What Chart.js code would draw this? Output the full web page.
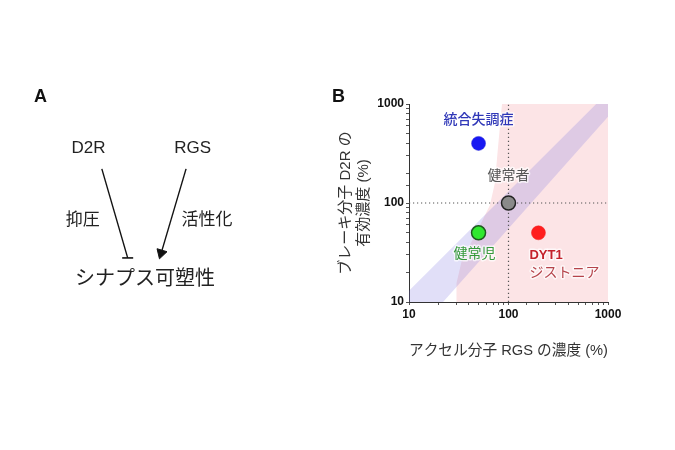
<!DOCTYPE html>
<html lang="ja">
<head>
<meta charset="utf-8">
<title>D2R / RGS</title>
<script src="https://cdn.jsdelivr.net/npm/chart.js@4.4.1/dist/chart.umd.min.js"></script>
<style>
  html, body { margin: 0; padding: 0; background: #fff; }
  #wrap { position: relative; width: 675px; height: 450px; overflow: hidden; }
  #wrap canvas { position: absolute; left: 0; top: 0; }
  .tag { position: absolute; font: bold 18px 'Liberation Sans', Arial, sans-serif; color: #111; }
</style>
</head>
<body>
<div id="wrap">
  <canvas id="diagram" width="330" height="450"></canvas>
  <canvas id="plot" width="675" height="450"></canvas>
  <div class="tag" style="left:34px;top:86px">A</div>
  <div class="tag" style="left:332px;top:86px">B</div>
</div>
<script>
//========================= Data ===========================
// panel B
var groups = ['統合失調症', '健常者', '健常児', 'DYT1 ジストニア'];
var rgsLevel = [50, 100, 50, 200];   // アクセル分子 RGS の濃度 (%)
var d2rLevel = [400, 100, 50, 50];   // ブレーキ分子 D2R の有効濃度 (%)
var axisTicks = [10, 100, 1000];
var normalLevel = 100;

// pink (dystonia side) zone, left boundary from top to bottom
var pinkEdgeX = [86, 78, 73, 65, 45, 34, 30, 30];
var pinkEdgeY = [1000, 343, 159, 95, 45, 26.5, 15.5, 10];

// healthy band, upper and lower edges
var bandUpperX = [10, 760];
var bandUpperY = [13, 1000];
var bandLowerX = [1000, 22];
var bandLowerY = [745, 10];

// panel A (diagram, laid out in page pixels)
var nodeText = ['D2R', 'RGS', '抑圧', '活性化', 'シナプス可塑性'];
var nodeX = [85, 194, 79, 209, 144];
var nodeY = [146, 146, 220, 220, 281];
var inhibitX = [99, 126];
var inhibitY = [167, 259];
var activateX = [187, 161];
var activateY = [167, 254];

var FONT = "'Liberation Sans', 'Noto Sans CJK JP', Arial, sans-serif";

function pts(xs, ys) {
    return xs.map(function (x, i) { return {x: x, y: ys[i]}; });
}

//========================= Panel A ===========================
var nodeLabels = {
    id: 'nodeLabels',
    afterDraw: function (chart) {
        var ctx = chart.ctx, sx = chart.scales.x, sy = chart.scales.y;
        ctx.save();
        ctx.fillStyle = '#222';
        ctx.textAlign = 'center';
        ctx.textBaseline = 'middle';
        nodeText.forEach(function (t, i) {
            ctx.font = (i === 4 ? '20px ' : '17px ') + FONT;
            ctx.fillText(t, sx.getPixelForValue(nodeX[i]), sy.getPixelForValue(nodeY[i]));
        });
        ctx.restore();
    }
};

var dx = activateX[1] - activateX[0], dy = activateY[1] - activateY[0];
var arrowRot = Math.atan2(dx, -dy) * 180 / Math.PI;

new Chart(document.getElementById('diagram'), {
    type: 'line',
    data: {
        datasets: [{
            data: pts(inhibitX, inhibitY),
            borderColor: '#111',
            borderWidth: 1.4,
            pointStyle: 'line',
            pointRadius: [0, 5.5],
            pointBorderWidth: 1.6,
            pointBorderColor: '#111',
        }, {
            data: pts(activateX, activateY),
            borderColor: '#111',
            borderWidth: 1.4,
            pointStyle: 'triangle',
            pointRotation: arrowRot,
            pointRadius: [0, 6],
            pointBorderWidth: 1,
            pointBackgroundColor: '#111',
            pointBorderColor: '#111',
        }],
    },
    options: {
        responsive: false,
        animation: false,
        layout: { padding: 0 },
        scales: {
            x: { type: 'linear', min: 0, max: 330, display: false },
            y: { type: 'linear', min: 0, max: 450, reverse: true, display: false },
        },
        plugins: { legend: { display: false }, tooltip: { enabled: false } },
    },
    plugins: [nodeLabels],
});

//========================= Panel B ===========================
var lo = axisTicks[0], hi = axisTicks[axisTicks.length - 1];

var pinkZone = pts(pinkEdgeX, pinkEdgeY).concat([{x: hi, y: lo}, {x: hi, y: hi}]);
var band = [{x: lo, y: lo}].concat(pts(bandUpperX, bandUpperY), [{x: hi, y: hi}], pts(bandLowerX, bandLowerY));

var labelStyle = [
    { dx: 0, dy: -23, color: '#3038b8', font: '500 14px ' + FONT, align: 'center' },
    { dx: 0, dy: -27, color: '#555', font: '14px ' + FONT, align: 'center' },
    { dx: -4, dy: 21, color: '#35993a', font: '14px ' + FONT, align: 'center' },
    { dx: -9, dy: 23, color: '#c4212b', font: 'bold 13px ' + FONT, align: 'left',
      dy2: 40, color2: '#b5434a', font2: '14px ' + FONT },
];

var groupLabels = {
    id: 'groupLabels',
    afterDatasetsDraw: function (chart) {
        var ctx = chart.ctx, sx = chart.scales.x, sy = chart.scales.y;
        ctx.save();
        ctx.textBaseline = 'middle';
        ctx.lineJoin = 'round';
        groups.forEach(function (g, i) {
            var s = labelStyle[i];
            var px = sx.getPixelForValue(rgsLevel[i]) + s.dx;
            var py = sy.getPixelForValue(d2rLevel[i]);
            var lines = g.split(' ');
            ctx.textAlign = s.align;
            lines.forEach(function (t, k) {
                ctx.font = k ? s.font2 : s.font;
                ctx.fillStyle = k ? s.color2 : s.color;
                var y = py + (k ? s.dy2 : s.dy);
                ctx.strokeStyle = 'rgba(255,255,255,0.7)';
                ctx.lineWidth = 3;
                ctx.strokeText(t, px, y);
                ctx.fillText(t, px, y);
            });
        });
        ctx.restore();
    }
};

var tickFont = { family: FONT, size: 12, weight: 'bold' };

new Chart(document.getElementById('plot'), {
    type: 'line',
    data: {
        datasets: [{
            label: groups.join(','),
            data: pts(rgsLevel, d2rLevel),
            showLine: false,
            pointRadius: 7,
            pointBackgroundColor: ['#1818f2', '#8a8a8a', '#2fe82f', '#ff1e1e'],
            pointBorderColor: ['#2a2ad8', '#222', '#1e5a1e', '#f02020'],
            pointBorderWidth: [0.5, 1.5, 1.5, 0.5],
            order: 0,
        }, {
            data: [{x: normalLevel, y: lo}, {x: normalLevel, y: hi}],
            borderColor: '#555',
            borderWidth: 1.2,
            borderDash: [1.2, 2.8],
            pointRadius: 0,
            order: 1,
        }, {
            data: [{x: lo, y: normalLevel}, {x: hi, y: normalLevel}],
            borderColor: '#555',
            borderWidth: 1.2,
            borderDash: [1.2, 2.8],
            pointRadius: 0,
            order: 1,
        }, {
            data: band,
            fill: 'shape',
            backgroundColor: 'rgba(125,115,225,0.23)',
            borderColor: 'rgba(0,0,0,0)',
            borderWidth: 0,
            pointRadius: 0,
            order: 2,
        }, {
            data: pinkZone,
            fill: 'shape',
            backgroundColor: '#fce4e6',
            borderColor: 'rgba(0,0,0,0)',
            borderWidth: 0,
            pointRadius: 0,
            order: 3,
        }],
    },
    options: {
        responsive: false,
        animation: false,
        layout: { padding: { left: 330, right: 67, top: 104, bottom: 88 } },
        scales: {
            x: {
                type: 'logarithmic',
                min: lo,
                max: hi,
                afterFit: function (s) { s.height = 60; },
                border: { display: true, color: '#333', width: 1 },
                grid: { drawOnChartArea: false, tickLength: 3, color: '#555' },
                ticks: {
                    autoSkip: false,
                    maxRotation: 0,
                    padding: 2,
                    color: '#111',
                    font: tickFont,
                    callback: function (v) { return axisTicks.indexOf(v) >= 0 ? String(v) : ''; },
                },
                title: {
                    display: true,
                    text: 'アクセル分子 RGS の濃度 (%)',
                    color: '#333',
                    font: { family: FONT, size: 15, lineHeight: 1.2 },
                    padding: { top: 0, bottom: 2 },
                },
            },
            y: {
                type: 'logarithmic',
                min: lo,
                max: hi,
                afterFit: function (s) { s.width = 79; },
                border: { display: true, color: '#333', width: 1 },
                grid: { drawOnChartArea: false, tickLength: 3, color: '#555' },
                ticks: {
                    autoSkip: false,
                    padding: 2,
                    color: '#111',
                    font: tickFont,
                    callback: function (v) { return axisTicks.indexOf(v) >= 0 ? String(v) : ''; },
                },
                title: {
                    display: true,
                    text: ['ブレーキ分子 D2R の', '有効濃度 (%)'],
                    color: '#333',
                    font: { family: FONT, size: 15, lineHeight: 1.2 },
                    padding: { top: 7, bottom: 0 },
                },
            },
        },
        plugins: { legend: { display: false }, tooltip: { enabled: false } },
    },
    plugins: [groupLabels],
});
</script>
</body>
</html>
